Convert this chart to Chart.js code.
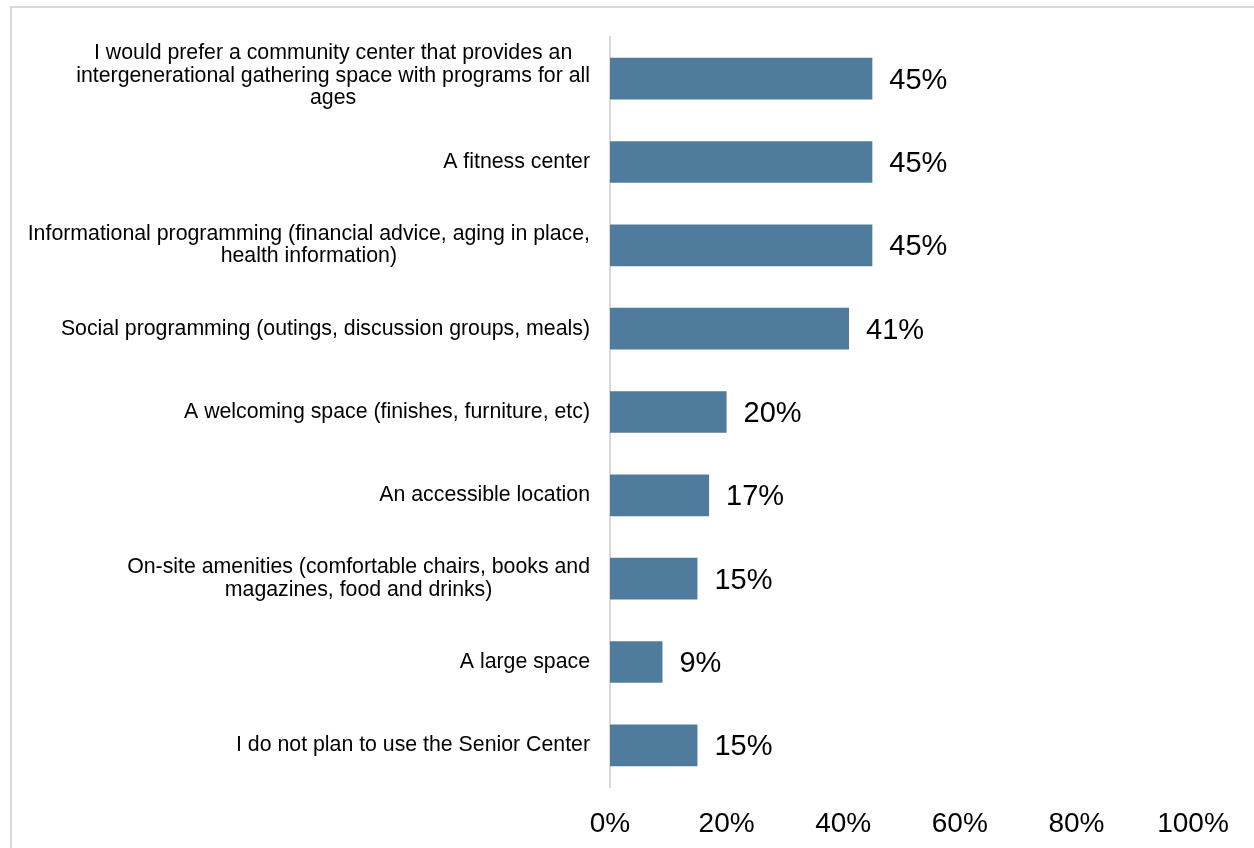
<!DOCTYPE html>
<html>
<head>
<meta charset="utf-8">
<script src="https://cdn.jsdelivr.net/npm/chart.js@4.4.0/dist/chart.umd.min.js"></script>
<style>
  html, body { margin: 0; padding: 0; background: #fff; overflow: hidden; }
  #frame {
    position: absolute; left: 10px; top: 6px; width: 1400px; height: 1000px;
    border: 2px solid #d9d9d9; box-sizing: border-box;
  }
  #wrap { position: absolute; left: 0; top: 0; width: 1254px; height: 848px; }
</style>
</head>
<body>
<div id="frame"></div>
<div id="wrap"><canvas id="surveyChart"></canvas></div>
<script>
// Categories (multi-line labels as they wrap in the original)
const categories = [
  ["I would prefer a community center that provides an", "intergenerational gathering space with programs for all", "ages"],
  "A fitness center",
  ["Informational programming (financial advice, aging in place,", "health information)"],
  "Social programming (outings, discussion groups, meals)",
  "A welcoming space (finishes, furniture, etc)",
  "An accessible location",
  ["On-site amenities (comfortable chairs, books and", "magazines, food and drinks)"],
  "A large space",
  "I do not plan to use the Senior Center"
];

// Percent of respondents
const values = [45, 45, 45, 41, 20, 17, 15, 9, 15];

// X axis ticks
const xTicks = [0, 20, 40, 60, 80, 100];

const FONT = "'Liberation Sans', Arial, sans-serif";

// Draws the value next to the end of each bar
const valueLabels = {
  id: "valueLabels",
  afterDatasetsDraw(chart) {
    const ctx = chart.ctx;
    const meta = chart.getDatasetMeta(0);
    ctx.save();
    ctx.font = "29px " + FONT;
    ctx.fillStyle = "#000";
    ctx.textAlign = "left";
    ctx.textBaseline = "middle";
    meta.data.forEach((bar, i) => {
      ctx.fillText(values[i] + "%", bar.x + 17, bar.y + 2);
    });
    ctx.restore();
  }
};

// Category labels: block right-aligned to the axis, lines centred inside the block
const categoryLabels = {
  id: "categoryLabels",
  afterDraw(chart) {
    const ctx = chart.ctx;
    const yScale = chart.scales.y;
    const right = chart.chartArea.left - 20;
    const lineH = 22.5;
    ctx.save();
    ctx.font = "21.3px " + FONT;
    ctx.fillStyle = "#000";
    ctx.textAlign = "center";
    ctx.textBaseline = "middle";
    categories.forEach((label, i) => {
      const lines = Array.isArray(label) ? label : [label];
      const maxW = Math.max(...lines.map((l) => ctx.measureText(l).width));
      const cx = right - maxW / 2;
      const cy = yScale.getPixelForValue(i) - (lines.length > 2 ? 3 : 0);
      lines.forEach((l, j) => {
        ctx.fillText(l, cx, cy + (j - (lines.length - 1) / 2) * lineH);
      });
    });
    ctx.restore();
  }
};

const ctx = document.getElementById("surveyChart");
new Chart(ctx.getContext("2d"), {
  type: "bar",
  data: {
    labels: categories,
    datasets: [
      {
        data: values,
        backgroundColor: "#4f7c9d",
        borderWidth: 0,
        barPercentage: 0.5,
        categoryPercentage: 1.0,
      },
    ],
  },
  options: {
    indexAxis: "y",
    responsive: true,
    maintainAspectRatio: false,
    animation: false,
    layout: {
      padding: { top: 37, right: 61, left: 0, bottom: 0 },
    },
    plugins: {
      legend: { display: false },
      tooltip: { enabled: false },
    },
    scales: {
      x: {
        min: 0,
        max: 100,
        afterBuildTicks: (scale) => {
          scale.ticks = xTicks.map((v) => ({ value: v }));
        },
        grid: { display: false, drawTicks: false },
        border: { display: false },
        ticks: {
          padding: 20,
          color: "#000",
          font: { family: FONT, size: 28 },
          callback: (v) => v + "%",
        },
        afterFit: (scale) => {
          scale.height = 61;
        },
      },
      y: {
        grid: { display: false, drawTicks: false },
        border: { display: true, color: "#d9d9d9", width: 2 },
        ticks: { display: false },
        afterFit: (scale) => {
          scale.width = 610;
        },
      },
    },
  },
  plugins: [valueLabels, categoryLabels],
});
</script>
</body>
</html>
